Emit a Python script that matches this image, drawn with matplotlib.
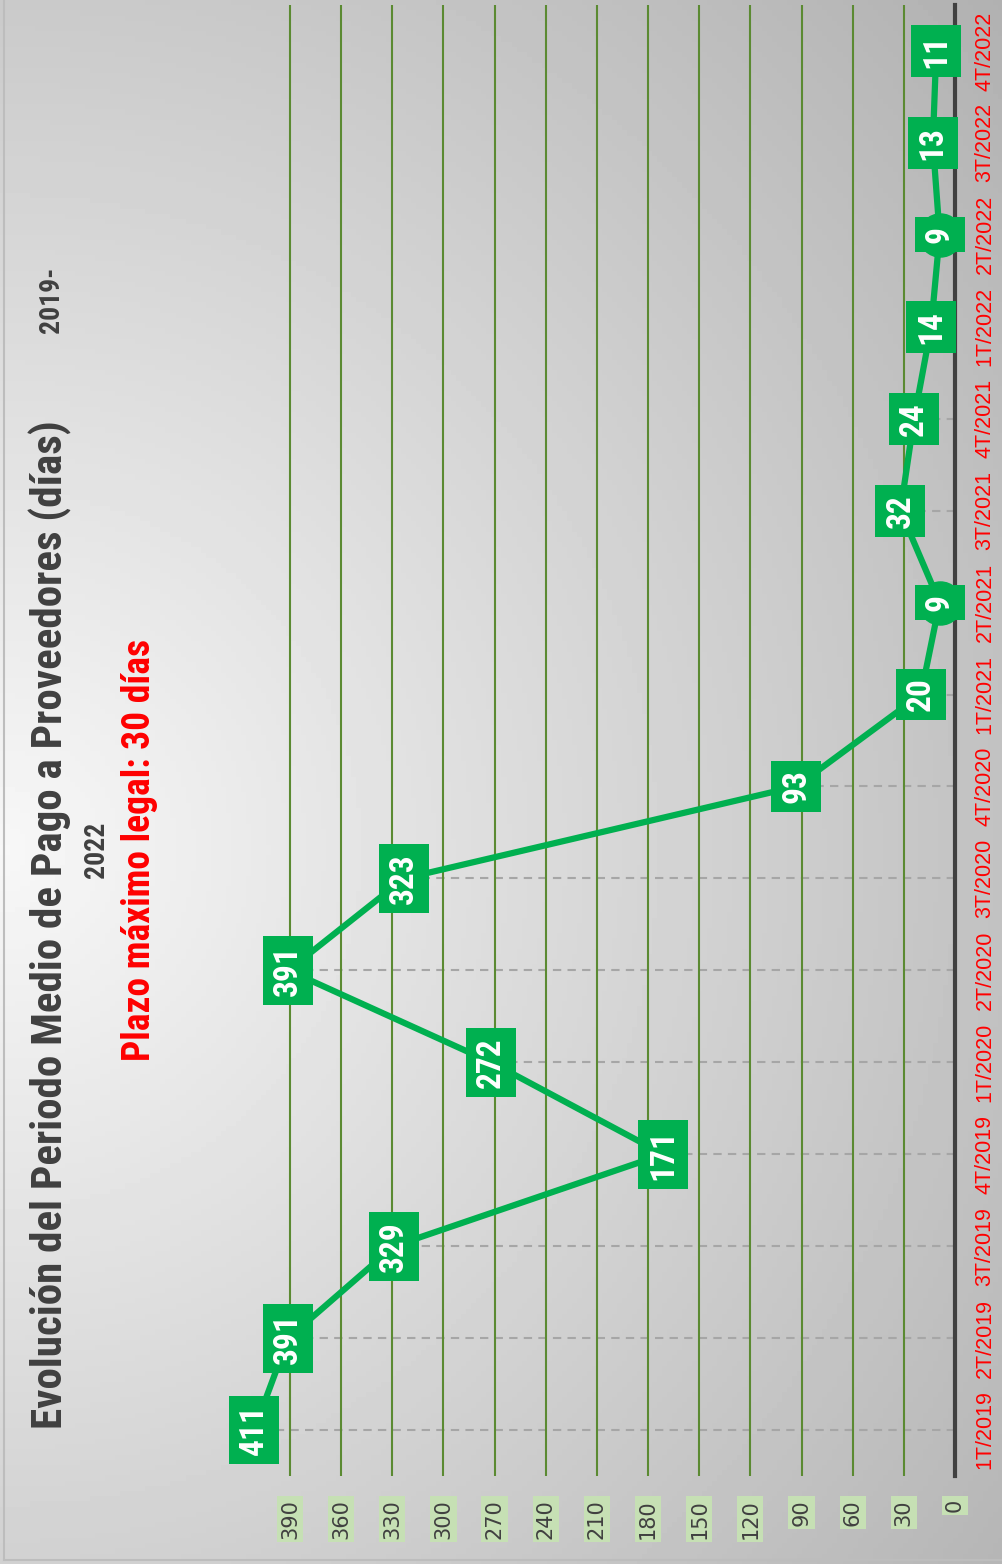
import numpy as np
import matplotlib
matplotlib.use("Agg")
import matplotlib.pyplot as plt
import matplotlib.transforms as mtransforms
from matplotlib.lines import Line2D

# data
quarters = ['1T/2019', '2T/2019', '3T/2019', '4T/2019',
            '1T/2020', '2T/2020', '3T/2020', '4T/2020',
            '1T/2021', '2T/2021', '3T/2021', '4T/2021',
            '1T/2022', '2T/2022', '3T/2022', '4T/2022']
pmp = [411, 391, 329, 171, 272, 391, 323, 93, 20, 9, 32, 24, 14, 9, 13, 11]
value_ticks = [0, 30, 60, 90, 120, 150, 180, 210, 240, 270, 300, 330, 360, 390]

title = 'Evolución del Periodo Medio de Pago a Proveedores (días)'
subtitle_a = '2019-'
subtitle_b = '2022'
legal_note = 'Plazo máximo legal: 30 días'

W, H = 1003, 1564
narrow = ['Roboto Condensed', 'Roboto', 'DejaVu Sans']
green = '#00b050'


def fx(px):
    return px / W


def fy(py):
    return 1 - py / H


fig = plt.figure(figsize=(W / 100, H / 100), dpi=100)

# background gradient
bg = fig.add_axes([0, 0, 1, 1], zorder=-10)
xx, yy = np.meshgrid(np.linspace(0, W, 200), np.linspace(0, H, 300))
r = np.sqrt((xx / 1003.0) ** 2 + ((yy - 850) / 1000.0) ** 2)
shade = np.clip(0.97 - 0.21 * r, 0, 1)
bg.imshow(shade, extent=[0, 1, 0, 1], aspect='auto', cmap='gray',
          vmin=0, vmax=1, origin='upper')
bg.axis('off')
fig.add_artist(Line2D([fx(4), fx(4)], [fy(0), fy(1560)], color='#bdbdbd', lw=1.5))
fig.add_artist(Line2D([fx(4), fx(W)], [fy(1560), fy(1560)], color='#bdbdbd', lw=1.5))

# main axes: values run right->left, quarters bottom->top
left_px, right_px, top_px, bot_px = 204.7, 955, 5, 1476
ax = fig.add_axes([fx(left_px), fy(bot_px), fx(right_px - left_px), (bot_px - top_px) / H])
ax.set_facecolor('none')
ax.set_xlim(440, 0)
ax.set_ylim(-0.5, 15.5)

idx = np.arange(len(quarters))

ax.set_xticks(value_ticks[1:])
ax.grid(axis='x', color='#5b8a32', lw=1.5, zorder=0)
ax.tick_params(axis='x', length=0, labelbottom=False)
for s in ['left', 'top', 'bottom']:
    ax.spines[s].set_visible(False)
ax.spines['right'].set_color('#404040')
ax.spines['right'].set_linewidth(3)

ax.yaxis.tick_right()
ax.set_yticks(idx)
ax.set_yticklabels(quarters, rotation=90, va='center', color='red',
                   fontsize=15.5, family=['Liberation Sans', 'DejaVu Sans'])
ax.tick_params(axis='y', length=0, pad=14)

# value labels with light green boxes
trans = mtransforms.blended_transform_factory(ax.transData, fig.transFigure)
for v in value_ticks:
    ax.text(v, fy(1499), str(v), transform=trans, rotation=90, ha='center', va='top',
            fontsize=15, color='#404040', clip_on=False,
            bbox=dict(boxstyle='square,pad=0.15', fc='#c6e0b4', ec='none'))

# drop lines
ax.hlines(idx, 0, pmp, colors='#a6a6a6', linestyles=(0, (4, 3)), lw=1.5, zorder=1)

# line with markers
ax.plot(pmp, idx, color=green, lw=4.5, marker='o', ms=31,
        mfc=green, mec=green, zorder=3, clip_on=False)

for v, i in zip(pmp, idx):
    ax.text(v, i, str(v), rotation=90, ha='center', va='center', color='white',
            fontsize=24, weight='bold', family=narrow, zorder=5, clip_on=False,
            bbox=dict(boxstyle='square,pad=0.27', fc=green, ec='none'))

# titles
fig.text(fx(50), fy(925), title, rotation=90, ha='center', va='center',
         fontsize=31, color='#404040', weight='bold', family=narrow)
fig.text(fx(52), fy(300), subtitle_a, rotation=90, ha='center', va='center',
         fontsize=20, color='#404040', weight='bold', family=narrow)
fig.text(fx(97), fy(850), subtitle_b, rotation=90, ha='center', va='center',
         fontsize=20, color='#404040', weight='bold', family=narrow)
fig.text(fx(140), fy(850), legal_note, rotation=90, ha='center', va='center',
         fontsize=27, color='red', weight='bold', family=narrow)

fig.savefig('out.png', dpi=100)
